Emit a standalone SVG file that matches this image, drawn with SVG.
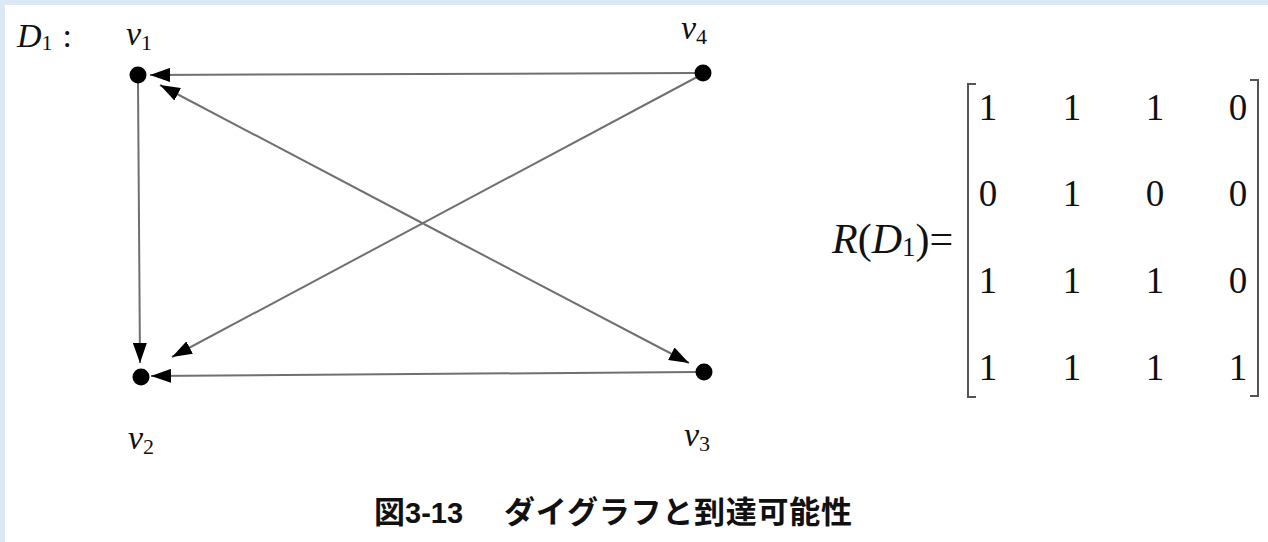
<svg xmlns="http://www.w3.org/2000/svg" width="1268" height="542" viewBox="0 0 1268 542">
<style>
.edge{stroke:#707070;stroke-width:2;fill:none;marker-end:url(#ah)}
.node{fill:#000}
.lbl{font-family:"Liberation Serif",serif;font-style:italic;font-size:34px;fill:#111}
.sub{font-style:normal;font-size:22px}
.num{font-family:"Liberation Serif",serif;font-size:37px;fill:#111;text-anchor:middle}
.br{stroke:#555;stroke-width:2;fill:none}
.cap{font-family:"Noto Sans CJK JP",sans-serif;font-weight:bold;font-size:31px;fill:#111}
</style>
<defs>
<marker id="ah" markerUnits="userSpaceOnUse" markerWidth="20" markerHeight="14" refX="20" refY="7" orient="auto">
<path d="M0,0 L20,7 L0,14 z" fill="#000"/>
</marker>
</defs>
<rect width="1268" height="542" fill="#fff"/>
<rect x="0" y="0" width="1268" height="5" fill="#dce8f4"/>
<rect x="0" y="0" width="5" height="542" fill="#dce8f4"/>
<g id="connectors">
<line class="edge" x1="695" y1="73" x2="150" y2="75"/>
<line class="edge" x1="696" y1="372" x2="151" y2="376"/>
<line class="edge" x1="138" y1="83" x2="140" y2="363"/>
<line class="edge" x1="697" y1="77" x2="172" y2="357"/>
<line class="edge" x1="424" y1="224" x2="160" y2="85"/>
<line class="edge" x1="424" y1="224" x2="689" y2="363"/>
</g>
<g id="v1"><circle class="node" cx="138" cy="75" r="8.5"/><text class="lbl" x="126" y="45">v<tspan class="sub" dy="5">1</tspan></text></g>
<g id="v4"><circle class="node" cx="703" cy="73" r="8.5"/><text class="lbl" x="681" y="39">v<tspan class="sub" dy="5">4</tspan></text></g>
<g id="v2"><circle class="node" cx="141" cy="377" r="8.5"/><text class="lbl" x="128" y="449">v<tspan class="sub" dy="5">2</tspan></text></g>
<g id="v3"><circle class="node" cx="704" cy="372" r="8.5"/><text class="lbl" x="684" y="446">v<tspan class="sub" dy="5">3</tspan></text></g>
<g id="title"><text class="lbl" x="17" y="47">D<tspan class="sub" dy="3">1</tspan><tspan font-style="normal" dy="-3" dx="10">:</tspan></text></g>
<g id="matrix">
<text class="lbl" x="832" y="253" style="font-size:42px">R<tspan style="font-style:normal">(</tspan>D<tspan class="sub" style="font-size:27px" dy="3">1</tspan><tspan style="font-style:normal" dy="-3">)=</tspan></text>
<polyline class="br" points="976,84 968,84 968,397 976,397"/>
<polyline class="br" points="1250,80 1258,80 1258,396 1250,396"/>
<g class="num">
<text x="988" y="120">1</text><text x="1072" y="120">1</text><text x="1155" y="120">1</text><text x="1238" y="120">0</text>
<text x="988" y="206">0</text><text x="1072" y="206">1</text><text x="1155" y="206">0</text><text x="1238" y="206">0</text>
<text x="988" y="293">1</text><text x="1072" y="293">1</text><text x="1155" y="293">1</text><text x="1238" y="293">0</text>
<text x="988" y="380">1</text><text x="1072" y="380">1</text><text x="1155" y="380">1</text><text x="1238" y="380">1</text>
</g>
</g>
<g id="caption">
<text class="cap" x="374" y="523">図<tspan font-family="Liberation Sans,sans-serif" font-size="29">3-13</tspan></text>
<text class="cap" x="504" y="523" textLength="348">ダイグラフと到達可能性</text>
</g>
</svg>
